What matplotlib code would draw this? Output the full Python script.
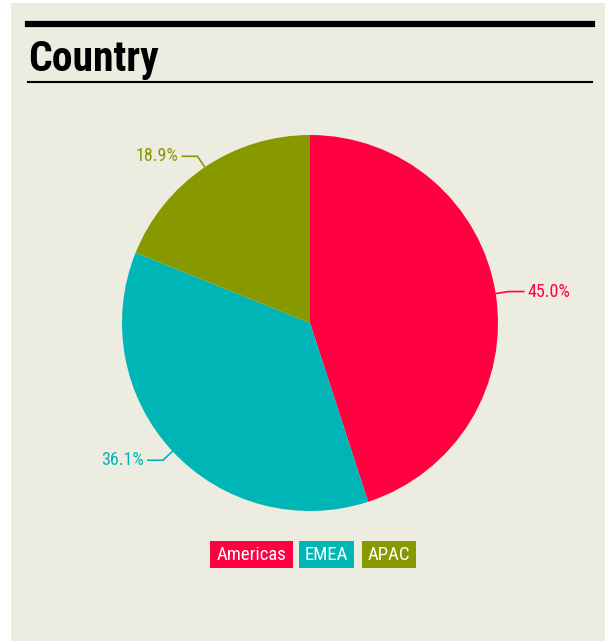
import numpy as np
import matplotlib
matplotlib.use("Agg")
import matplotlib.pyplot as plt
from matplotlib import font_manager
from matplotlib.patches import Rectangle

categories = ["Americas", "EMEA", "APAC"]
values = [45.0, 36.1, 18.9]
colors = ["#FF0040", "#00B5B5", "#889900"]
title = "Country"

names = {f.name for f in font_manager.fontManager.ttflist}
def pick(cands):
    for c in cands:
        if c in names:
            return c
    return "DejaVu Sans"
narrow = pick(["Roboto Condensed", "Liberation Sans Narrow", "Open Sans Condensed", "DejaVu Sans Condensed", "Noto Sans", "DejaVu Sans"])

W, H = 605, 641
fig = plt.figure(figsize=(W / 100, H / 100), dpi=100)
fig.patch.set_facecolor("white")

def fx(x): return x / W
def fy(y): return 1 - y / H

# panel background
fig.patches.append(Rectangle((fx(11), fy(641)), fx(605) - fx(11), fy(3) - fy(641),
                             transform=fig.transFigure, facecolor="#EDECE1", edgecolor="none", zorder=-10))
# header lines
fig.add_artist(plt.Line2D([fx(28), fx(592)], [fy(24), fy(24)], transform=fig.transFigure, color="black", lw=4.5))
fig.add_artist(plt.Line2D([fx(28), fx(592)], [fy(82), fy(82)], transform=fig.transFigure, color="black", lw=1.5))
fig.text(fx(28), fy(71), title, fontsize=30, fontweight="bold", family=narrow, color="black",
         ha="left", va="baseline")

# pie
cx, cy, R = 310, 323, 188
ax = fig.add_axes([fx(cx - R), fy(cy + R), 2 * R / W, 2 * R / H], zorder=5)
ax.set_facecolor("none")
wedges, _ = ax.pie(values, colors=colors, startangle=90, counterclock=False, radius=1,
                   wedgeprops=dict(linewidth=0))
ax.set_xlim(-1, 1)
ax.set_ylim(-1, 1)
ax.set_aspect("auto")
ax.axis("off")

total = sum(values)
cum = 0
for v, c in zip(values, colors):
    mid = cum + v / 2
    cum += v
    theta = np.deg2rad(90 - 360 * mid / total)
    x0, y0 = np.cos(theta), np.sin(theta)
    x1, y1 = 1.07 * np.cos(theta), 1.07 * np.sin(theta)
    side = 1 if x0 >= 0 else -1
    x2 = x1 + side * 0.08
    ax.plot([x0, x1, x2], [y0, y1, y1], color=c, lw=1.2, clip_on=False)
    ax.text(x2 + side * 0.02, y1, f"{v:.1f}%", color=c, fontsize=13, family=narrow,
            ha="left" if side > 0 else "right", va="center", clip_on=False)

# legend boxes
boxes = [(210, 293), (299, 354), (362, 416)]
for (x0, x1), name, c in zip(boxes, categories, colors):
    fig.patches.append(Rectangle((fx(x0), fy(568)), fx(x1) - fx(x0), fy(541) - fy(568),
                                 transform=fig.transFigure, facecolor=c, edgecolor="none", zorder=2))
    fig.text(fx((x0 + x1) / 2), fy(555), name, color="white", fontsize=13.5, family=narrow,
             ha="center", va="center", zorder=3)

fig.savefig("out.png", dpi=100, facecolor=fig.get_facecolor())
